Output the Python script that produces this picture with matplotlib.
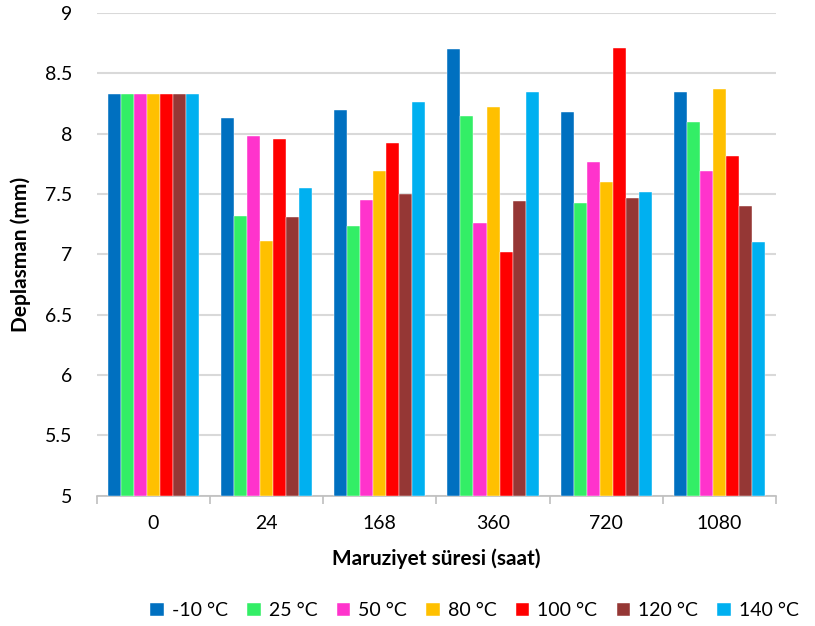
import numpy as np
import matplotlib.pyplot as plt

plt.rcParams['font.family'] = ['Lato', 'DejaVu Sans']

# exposure times (hours) and temperature series
times = ['0', '24', '168', '360', '720', '1080']
temps = ['-10 °C', '25 °C', '50 °C', '80 °C', '100 °C', '120 °C', '140 °C']
colors = ['#0070C0', '#33EE66', '#FF33CC', '#FFC000', '#FF0000', '#953735', '#00B0F0']

# displacement (mm) per temperature, one value per exposure time
d_m10 = [8.33, 8.13, 8.20, 8.70, 8.18, 8.35]
d_25 = [8.33, 7.32, 7.24, 8.15, 7.43, 8.10]
d_50 = [8.33, 7.98, 7.45, 7.26, 7.77, 7.69]
d_80 = [8.33, 7.11, 7.69, 8.22, 7.60, 8.37]
d_100 = [8.33, 7.96, 7.92, 7.02, 8.71, 7.82]
d_120 = [8.33, 7.31, 7.50, 7.44, 7.47, 7.40]
d_140 = [8.33, 7.55, 8.26, 8.35, 7.52, 7.10]
series = [d_m10, d_25, d_50, d_80, d_100, d_120, d_140]

fig = plt.figure(figsize=(8.15, 6.26), dpi=100)
ax = fig.add_axes([0.119, 0.208, 0.833, 0.771])

x = np.arange(len(times))
n = len(series)
group_w = 0.805
w = group_w / n
for i, (vals, c, lab) in enumerate(zip(series, colors, temps)):
    offs = -group_w / 2 + w * (i + 0.5)
    ax.bar(x + offs, np.array(vals) - 5, bottom=5, width=w, color=c,
           edgecolor='white', linewidth=0.3, label=lab, zorder=3)

ax.set_ylim(5, 9)
ax.set_xlim(-0.5, len(times) - 0.5)
ax.set_yticks(np.arange(5, 9.01, 0.5))
ax.set_yticklabels(['5', '5.5', '6', '6.5', '7', '7.5', '8', '8.5', '9'])
ax.yaxis.grid(True, color='#d9d9d9', linewidth=1.5, zorder=0)
ax.set_axisbelow(True)

# group labels centred, tick marks on the group boundaries
ax.set_xticks(x)
ax.set_xticklabels(times)
ax.set_xticks(np.arange(-0.5, len(times), 1), minor=True)
ax.tick_params(axis='x', which='major', length=0, pad=14, labelsize=14)
ax.tick_params(axis='x', which='minor', length=6, color='#bfbfbf', width=1.2)
ax.tick_params(axis='y', length=0, pad=18, labelsize=14)

for s in ['top', 'right', 'left']:
    ax.spines[s].set_visible(False)
ax.spines['bottom'].set_color('#bfbfbf')
ax.spines['bottom'].set_linewidth(1.2)

ax.set_ylabel('Deplasman (mm)', fontsize=15, fontweight='bold', labelpad=10)
ax.set_xlabel('Maruziyet süresi (saat)', fontsize=15, fontweight='bold', labelpad=12)

ax.legend(loc='center', bbox_to_anchor=(0.556, -0.238), ncol=7, frameon=False,
          fontsize=14, handlelength=0.7, handleheight=0.7, handletextpad=0.4,
          columnspacing=1.0)

fig.savefig('out.png', dpi=100)
